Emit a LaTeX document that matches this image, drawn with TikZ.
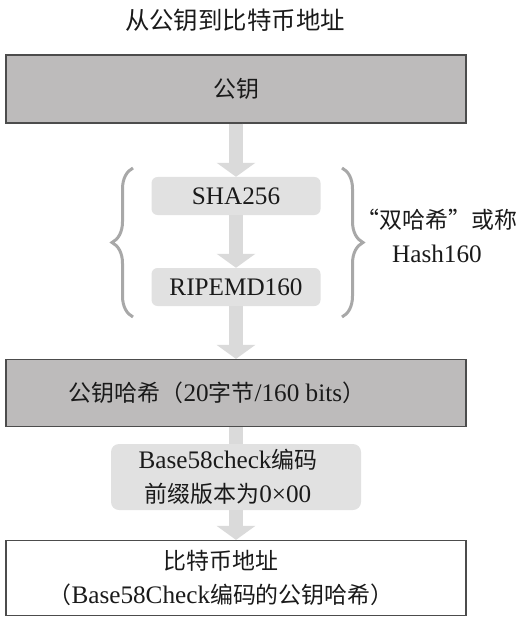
\documentclass[tikz,border=0pt]{standalone}
\usepackage{fontspec}
\setmainfont{Liberation Serif}[Scale=1.1]
\newfontfamily\cjk{Noto Sans CJK SC}
\usepackage{tikz}
\usetikzlibrary{arrows.meta, decorations.pathreplacing, backgrounds}
\definecolor{boxgray}{HTML}{BDBBBB}
\definecolor{stepgray}{HTML}{E1E1E1}
\definecolor{flowgray}{HTML}{DADADA}
\definecolor{bracegray}{HTML}{A8A8A8}
\definecolor{inkgray}{HTML}{1A1A1A}
\tikzset{keybox/.style={draw=black!70, line width=1.2bp, fill=boxgray, minimum width=460bp, minimum height=68bp, inner sep=0pt},
    hashstep/.style={fill=stepgray, rounded corners=6bp, minimum width=169bp, minimum height=38bp, inner sep=0pt},
    flow/.style={draw=flowgray, line width=14bp, -{Triangle[width=38bp,length=14bp]}},
    bracket/.style={draw=bracegray, line width=3bp, decoration={brace, amplitude=21bp}, decorate}}

\begin{document}
\begin{tikzpicture}[x=1bp, y=-1bp, text=inkgray, font=\fontsize{23}{34}\selectfont]
                 \useasboundingbox (0,0) rectangle (528,622);

                 \node[font=\fontsize{24.5}{30}\selectfont] (title) at (235,20) {\cjk 从公钥到比特币地址};

                 \node[keybox] (pub) at (236,89) {\cjk 公钥};
                 \node[hashstep] (sha) at (236,196) {SHA256};
                 \node[hashstep] (ripe) at (236,287) {RIPEMD160};
                 \node[keybox, minimum height=67bp] (pkh) at (236,393) {\hspace*{-38bp}{\cjk 公钥哈希（}20{\cjk 字节}/160 bits{\cjk ）}};
                 \node[keybox, fill=white, minimum height=75bp, align=center] (addr) at (236,578) {\hspace*{-30bp}{\cjk 比特币地址}\\\hspace*{-30bp}{\cjk （}Base58Check{\cjk 编码的公钥哈希）}};

                 \draw[flow] (pub) -- (sha);
                 \draw[flow] (sha) -- (ripe);
                 \draw[flow] (ripe) -- (pkh);
                 \begin{scope}[on background layer]
                 \draw[flow] (pkh) -- (addr);
                 \end{scope}

                 \node[hashstep, minimum width=250bp, minimum height=66bp, rounded corners=8bp, align=center] (b58) at (236,477) {\hspace*{-16bp}Base58check{\cjk 编码}\\\hspace*{-16bp}{\cjk 前缀版本为}0×00};

                 \coordinate (lbot) at (133,317);
                 \coordinate (ltop) at (133,168);
                 \coordinate (rtop) at (342,168);
                 \coordinate (rbot) at (342,317);
                 \draw[bracket] (lbot) -- (ltop);
                 \draw[bracket] (rtop) -- (rbot);

                 \node[align=center] (dbl) at (437,236) {{\cjk “双哈希”或称}\\Hash160};
             \end{tikzpicture}
\end{document}
